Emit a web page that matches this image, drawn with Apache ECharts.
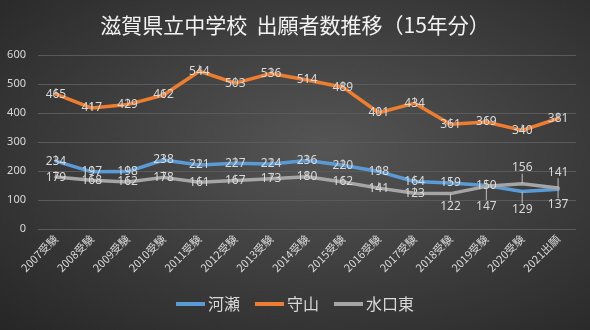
<!DOCTYPE html>
<html><head><meta charset="utf-8">
<script src="https://cdn.jsdelivr.net/npm/echarts@6/dist/echarts.min.js"></script>
<style>
html,body{margin:0;padding:0;}
body{width:590px;height:330px;background:radial-gradient(ellipse at 55% 45%, #555555 0%, #404040 45%, #262626 100%);}
#c{width:590px;height:330px;}
</style></head>
<body><div id="c"></div>
<script>
const categories = ["2007受験","2008受験","2009受験","2010受験","2011受験","2012受験","2013受験","2014受験","2015受験","2016受験","2017受験","2018受験","2019受験","2020受験","2021出願"];
const kawase = [234,197,198,238,221,227,224,236,220,198,164,159,150,129,137];
const moriyama = [465,417,429,462,544,503,536,514,489,401,434,361,369,340,381];
const minakuchi = [179,168,162,178,161,167,173,180,162,141,123,122,147,156,141];
const titleText = "滋賀県立中学校  出願者数推移（15年分）";
// label vertical shifts (px) for crowded points: [index, dy]
const kawaseShift = {13: 18, 14: 15};
const minakuchiShift = {11: 13, 12: 20, 13: -16, 14: -16};

const chart = echarts.init(document.getElementById('c'), null, {renderer:'canvas'});
const fontNum = "'Noto Sans', 'Noto Sans CJK JP', sans-serif";
const fontJP = "'Noto Sans CJK JP', sans-serif";
const labelColor = '#d9d9d9';

function mkSeries(name, data, color, shift) {
  return {
    name, type:'line', data, symbol:'circle', symbolSize:0.1, showSymbol:true, smooth:false,
    lineStyle:{color, width:3.5, cap:'round', join:'round'},
    itemStyle:{color},
    label:{show:true, position:'inside', color:labelColor, fontSize:12, fontFamily:fontNum},
    labelLine:{show:true, lineStyle:{color:'#bfbfbf', width:1}},
    labelLayout: function(p){ const d = shift[p.dataIndex]; return d ? {dy:d} : {}; },
    emphasis:{disabled:true},
    z: 2
  };
}

chart.setOption({
  backgroundColor:'transparent',
  animation:false,
  title:{text:titleText, left:'center', top:10,
    textStyle:{color:'#f2f2f2', fontSize:21, fontWeight:'normal', fontFamily:fontJP}},
  grid:{left:38, right:14, top:55, bottom:101},
  legend:{bottom:13, left:'center', icon:'rect', itemWidth:29, itemHeight:4, itemGap:15,
    textStyle:{color:labelColor, fontSize:16, fontFamily:fontJP, padding:[0,0,0,-2]},
    data:['河瀬','守山','水口東']},
  xAxis:{type:'category', data:categories, boundaryGap:true,
    axisLine:{show:false}, axisTick:{show:false},
    axisLabel:{color:labelColor, fontSize:11, fontFamily:fontJP, rotate:45, margin:8, interval:0}},
  yAxis:{type:'value', min:0, max:600, interval:100,
    axisLine:{show:false}, axisTick:{show:false},
    axisLabel:{color:labelColor, fontSize:11, fontFamily:fontNum, margin:12},
    splitLine:{lineStyle:{color:'#5a5a5a', width:1}}},
  series:[
    mkSeries('河瀬', kawase, '#5B9BD5', kawaseShift),
    mkSeries('守山', moriyama, '#ED7D31', {}),
    mkSeries('水口東', minakuchi, '#A5A5A5', minakuchiShift)
  ]
});
</script></body></html>
